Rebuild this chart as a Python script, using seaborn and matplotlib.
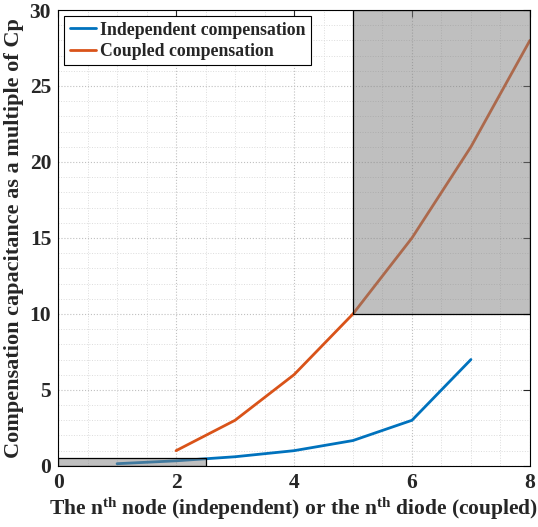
import matplotlib
matplotlib.use("Agg")
import matplotlib.pyplot as plt
from matplotlib.patches import Rectangle
from matplotlib.ticker import MultipleLocator
import pandas as pd
import seaborn as sns

# Data
indep_nodes = [1, 2, 3, 4, 5, 6, 7]
indep_cap = [0.143, 0.333, 0.6, 1.0, 1.667, 3.0, 7.0]
coupled_diodes = [2, 3, 4, 5, 6, 7, 8]
coupled_cap = [1, 3, 6, 10, 15, 21, 28]
series_names = ["Independent compensation", "Coupled compensation"]
series_colors = ["#0072BD", "#D95319"]

df = pd.concat([
    pd.DataFrame({"n": indep_nodes, "cap": indep_cap, "series": series_names[0]}),
    pd.DataFrame({"n": coupled_diodes, "cap": coupled_cap, "series": series_names[1]}),
])

sns.set_style("white")
plt.rcParams["font.family"] = ["Liberation Serif", "DejaVu Serif"]
plt.rcParams["font.weight"] = "bold"
plt.rcParams["mathtext.fontset"] = "custom"
plt.rcParams["mathtext.rm"] = "Liberation Serif:bold"
plt.rcParams["mathtext.it"] = "Liberation Serif:bold"
plt.rcParams["mathtext.bf"] = "Liberation Serif:bold"

fig = plt.figure(figsize=(5.38, 5.27), dpi=100)
ax = fig.add_axes([0.108, 0.116, 0.877, 0.865])

sns.lineplot(data=df, x="n", y="cap", hue="series", palette=series_colors,
             linewidth=2, ax=ax, sort=False, estimator=None)

# Highlight regions
for (x0, y0, w, h) in [(0, 0, 2.5, 0.5), (5, 10, 3, 20)]:
    ax.add_patch(Rectangle((x0, y0), w, h, facecolor=(0.5, 0.5, 0.5), alpha=0.5,
                           edgecolor="none", zorder=3))
    ax.add_patch(Rectangle((x0, y0), w, h, facecolor="none", edgecolor="black",
                           linewidth=0.9, zorder=4))

ax.set_xlim(0, 8)
ax.set_ylim(0, 30)
ax.xaxis.set_major_locator(MultipleLocator(2))
ax.xaxis.set_minor_locator(MultipleLocator(0.5))
ax.yaxis.set_major_locator(MultipleLocator(5))
ax.yaxis.set_minor_locator(MultipleLocator(1))
ax.grid(which="major", linestyle=":", color="#c0c0c0", linewidth=0.8)
ax.grid(which="minor", linestyle=":", color="#dcdcdc", linewidth=0.7)
ax.set_axisbelow(True)
ax.tick_params(which="major", direction="in", length=5, top=True, right=True,
               labelsize=15.5, width=0.8, pad=5)
ax.tick_params(which="minor", direction="in", length=0, top=True, right=True)
for lab in ax.get_xticklabels() + ax.get_yticklabels():
    lab.set_fontweight("bold")
for sp in ax.spines.values():
    sp.set_color("black")
    sp.set_linewidth(0.8)

ax.set_xlabel("The n$^{\\mathrm{th}}$ node (independent) or the n$^{\\mathrm{th}}$ diode (coupled)",
              fontsize=15.5, fontweight="bold", labelpad=2)
ax.set_ylabel("Compensation capacitance as a multiple of Cp",
              fontsize=16, fontweight="bold", labelpad=4)

leg = ax.legend(loc="upper left", frameon=True, fancybox=False,
                edgecolor="black", framealpha=1, borderpad=0.3, handlelength=1.5,
                handletextpad=0.2, labelspacing=0.25, borderaxespad=0.35,
                prop={"weight": "bold", "size": 12.8})
leg.get_frame().set_linewidth(0.8)
for line in leg.get_lines():
    line.set_linewidth(2)

fig.savefig("out.png", dpi=100)
